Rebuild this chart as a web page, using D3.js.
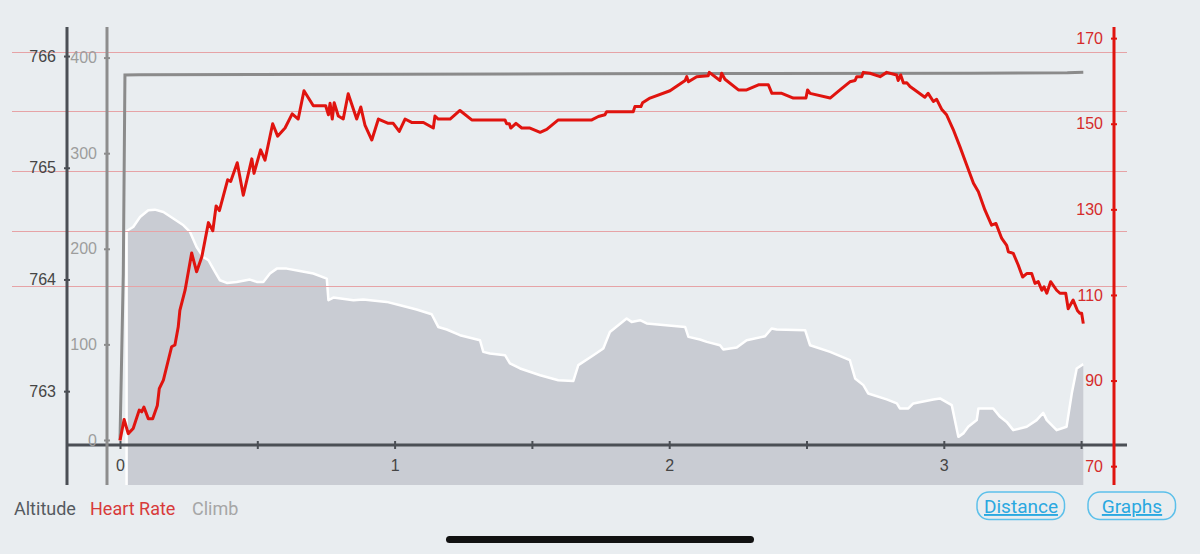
<!DOCTYPE html>
<meta charset="utf-8">
<style>
    body {
        margin: 0;
        background-color: #e9edf0;
    }
    svg {
        display: block;
        font-family: Roboto, sans-serif;
    }
    .axis text {
        font-size: 16px;
    }
    .axis path {
        display: none;
    }
    .grid line {
        stroke: #e6a3a6;
        stroke-width: 1px;
    }
    .area {
        fill: #c9ccd3;
    }
    .area-edge {
        fill: none;
        stroke: #fff;
        stroke-width: 2.5px;
        stroke-linejoin: round;
    }
    .hr-line {
        fill: none;
        stroke: #e0140f;
        stroke-width: 3px;
        stroke-linejoin: round;
    }
    .climb-line {
        fill: none;
        stroke: #8b8b8b;
        stroke-width: 3px;
    }
    .legend text {
        font-size: 18px;
    }
    .button rect {
        fill: none;
        stroke: #5cc0ea;
        stroke-width: 1.5px;
    }
    .button text {
        font-size: 19px;
        fill: #2aa8e0;
        text-decoration: underline;
        text-anchor: middle;
    }
</style>
<body>
<svg width="1200" height="554"></svg>
<script src="https://d3js.org/d3.v7.min.js"></script>
<script>
    // distance (km), altitude (m)
    var altitude = [
        [0.024, 764.434], [0.048, 764.470], [0.073, 764.559], [0.103, 764.619], [0.127, 764.625],
        [0.158, 764.604], [0.194, 764.545], [0.231, 764.485], [0.255, 764.425], [0.279, 764.291],
        [0.303, 764.201], [0.322, 764.172], [0.346, 764.067], [0.364, 763.993], [0.389, 763.969],
        [0.425, 763.978], [0.473, 763.999], [0.498, 763.978], [0.522, 763.978], [0.546, 764.053],
        [0.571, 764.097], [0.607, 764.097], [0.655, 764.076], [0.704, 764.053], [0.753, 764.008],
        [0.759, 763.814], [0.777, 763.838], [0.850, 763.814], [0.886, 763.820], [0.971, 763.799],
        [1.020, 763.769], [1.080, 763.731], [1.135, 763.689], [1.159, 763.575], [1.190, 763.552],
        [1.238, 763.501], [1.311, 763.456], [1.323, 763.352], [1.347, 763.337], [1.402, 763.322],
        [1.420, 763.248], [1.457, 763.203], [1.530, 763.143], [1.596, 763.098], [1.651, 763.092],
        [1.669, 763.233], [1.724, 763.322], [1.760, 763.382], [1.784, 763.530], [1.845, 763.650],
        [1.863, 763.620], [1.894, 763.635], [1.918, 763.606], [2.058, 763.575], [2.070, 763.486],
        [2.112, 763.462], [2.137, 763.441], [2.185, 763.411], [2.197, 763.373], [2.246, 763.391],
        [2.282, 763.456], [2.349, 763.492], [2.373, 763.561], [2.391, 763.552], [2.495, 763.546],
        [2.513, 763.411], [2.586, 763.352], [2.658, 763.277], [2.677, 763.114], [2.707, 763.054],
        [2.725, 762.979], [2.792, 762.926], [2.829, 762.890], [2.840, 762.845], [2.871, 762.845],
        [2.889, 762.890], [2.962, 762.926], [2.986, 762.935], [3.029, 762.875], [3.053, 762.591],
        [3.071, 762.622], [3.089, 762.681], [3.120, 762.741], [3.126, 762.845], [3.180, 762.845],
        [3.205, 762.770], [3.229, 762.725], [3.253, 762.651], [3.302, 762.681], [3.338, 762.741],
        [3.362, 762.806], [3.375, 762.741], [3.411, 762.651], [3.447, 762.681], [3.466, 762.979],
        [3.484, 763.203], [3.508, 763.242]
    ];

    // distance (km), heart rate (bpm)
    var heartRate = [
        [0.000, 76.0], [0.015, 80.9], [0.030, 77.6], [0.048, 78.8], [0.070, 83.1], [0.079, 82.7],
        [0.087, 83.8], [0.103, 81.1], [0.119, 81.1], [0.136, 84.2], [0.143, 88.1], [0.158, 90.1],
        [0.188, 97.9], [0.200, 98.3], [0.212, 102.5], [0.218, 106.4], [0.237, 111.1], [0.261, 119.8],
        [0.279, 115.4], [0.298, 118.9], [0.322, 126.9], [0.338, 125.0], [0.350, 130.8], [0.362, 129.7],
        [0.392, 136.9], [0.403, 136.5], [0.427, 140.9], [0.449, 133.3], [0.480, 141.8], [0.488, 138.4],
        [0.512, 143.9], [0.528, 141.5], [0.556, 150.0], [0.574, 147.1], [0.601, 149.0], [0.627, 152.3],
        [0.649, 151.1], [0.670, 157.7], [0.704, 154.2], [0.749, 154.2], [0.759, 152.1], [0.765, 154.8],
        [0.773, 151.1], [0.780, 154.9], [0.795, 151.8], [0.813, 151.1], [0.831, 157.0], [0.862, 151.1],
        [0.877, 153.9], [0.892, 149.7], [0.917, 146.2], [0.941, 151.1], [0.977, 150.1], [0.995, 150.1],
        [1.017, 148.2], [1.038, 151.1], [1.062, 150.3], [1.105, 150.3], [1.141, 149.0], [1.147, 151.8],
        [1.159, 151.1], [1.202, 151.1], [1.238, 153.1], [1.281, 150.9], [1.402, 150.9], [1.408, 150.0],
        [1.418, 150.0], [1.423, 149.0], [1.442, 150.1], [1.463, 149.0], [1.493, 149.0], [1.530, 148.0],
        [1.554, 148.7], [1.596, 150.9], [1.718, 150.9], [1.742, 151.7], [1.766, 152.1], [1.772, 152.8],
        [1.869, 152.8], [1.875, 154.0], [1.897, 154.0], [1.903, 154.9], [1.930, 156.0], [2.003, 157.7],
        [2.058, 160.1], [2.064, 161.0], [2.070, 159.8], [2.100, 161.0], [2.142, 161.2], [2.146, 162.0],
        [2.185, 160.1], [2.191, 161.8], [2.203, 160.4], [2.252, 157.9], [2.282, 157.9], [2.325, 159.1],
        [2.361, 159.1], [2.374, 157.1], [2.410, 157.1], [2.452, 156.0], [2.498, 156.0], [2.504, 157.9],
        [2.513, 157.1], [2.586, 156.0], [2.622, 157.9], [2.658, 159.8], [2.677, 160.1], [2.683, 161.0],
        [2.701, 161.0], [2.707, 162.0], [2.731, 161.8], [2.768, 161.0], [2.792, 162.0], [2.828, 161.4],
        [2.834, 160.1], [2.843, 161.4], [2.853, 159.5], [2.865, 159.6], [2.877, 158.7], [2.931, 156.2],
        [2.943, 157.1], [2.962, 155.2], [2.974, 155.7], [2.992, 153.4], [3.010, 152.1], [3.034, 148.7],
        [3.059, 144.6], [3.083, 140.4], [3.108, 136.1], [3.126, 134.1], [3.150, 129.8], [3.174, 126.3],
        [3.190, 126.7], [3.211, 123.2], [3.229, 121.6], [3.235, 120.1], [3.253, 119.7], [3.271, 117.0],
        [3.287, 114.2], [3.302, 115.0], [3.320, 115.0], [3.332, 112.7], [3.344, 113.1], [3.357, 111.1],
        [3.365, 111.9], [3.375, 110.4], [3.389, 113.1], [3.411, 111.1], [3.423, 110.4], [3.444, 110.4],
        [3.453, 106.8], [3.471, 108.8], [3.487, 106.3], [3.496, 105.7], [3.502, 105.7], [3.508, 103.3]
    ];

    // distance (km), cumulative climb
    var climb = [
        [0.000, 0], [0.012, 174], [0.018, 381.8], [0.070, 382], [1.000, 382.5], [1.660, 383],
        [2.200, 383.4], [3.100, 383.7], [3.450, 384.2], [3.508, 384.7]
    ];

    var hrZones = [166.8, 153.0, 139.0, 124.9, 112.1];

    var distTicks = [0, 0.5, 1, 1.5, 2, 2.5, 3, 3.5];
    var altTicks = [763, 764, 765, 766];
    var climbTicks = [0, 100, 200, 300, 400];
    var hrTicks = [70, 90, 110, 130, 150, 170];

    var legendItems = ["Altitude", "Heart Rate", "Climb"];
    var buttons = ["Distance", "Graphs"];

    var svg = d3.select("svg"),
        plotTop = 27, plotBottom = 485;

    var x = d3.scaleLinear().domain([0, 3.5]).range([120, 1081.1]);
    var yAlt = d3.scaleLinear().domain([762.16, 766.26]).range([plotBottom, plotTop]);
    var yClimb = d3.scaleLinear().domain([-47.1, 432]).range([plotBottom, plotTop]);
    var yHr = d3.scaleLinear().domain([65.6, 172.6]).range([plotBottom, plotTop]);

    // altitude area
    var area = d3.area()
        .x(function(d) { return x(d[0]); })
        .y0(plotBottom)
        .y1(function(d) { return yAlt(d[1]); });

    svg.append("path")
        .datum(altitude)
        .attr("class", "area")
        .attr("d", area);

    var edge = [[altitude[0][0], yAlt.domain()[0]]].concat(altitude);
    svg.append("path")
        .datum(edge)
        .attr("class", "area-edge")
        .attr("d", d3.line()
            .x(function(d) { return x(d[0]); })
            .y(function(d) { return yAlt(d[1]); }));

    // heart rate zone lines
    svg.append("g")
        .attr("class", "grid")
        .selectAll("line")
        .data(hrZones)
        .enter().append("line")
        .attr("x1", 12)
        .attr("x2", 1127)
        .attr("y1", function(d) { return Math.round(yHr(d)) + 0.5; })
        .attr("y2", function(d) { return Math.round(yHr(d)) + 0.5; });

    // x axis
    svg.append("line")
        .attr("x1", 67).attr("x2", 1127)
        .attr("y1", 445).attr("y2", 445)
        .attr("stroke", "#4b4f55").attr("stroke-width", 3);

    var xAxis = svg.append("g")
        .attr("class", "axis")
        .attr("transform", "translate(0,445)")
        .call(d3.axisBottom(x).tickValues(distTicks)
            .tickFormat(function(d) { return Number.isInteger(d) ? d : ""; })
            .tickSize(4).tickPadding(11));
    xAxis.selectAll(".tick line").attr("y1", -4).attr("y2", 4)
        .attr("stroke", "#4b4f55").attr("stroke-width", 2);
    xAxis.selectAll(".tick text").attr("fill", "#454545");

    // altitude axis
    svg.append("line")
        .attr("x1", 67).attr("x2", 67)
        .attr("y1", plotTop).attr("y2", plotBottom)
        .attr("stroke", "#4b4f55").attr("stroke-width", 3);
    var altAxis = svg.append("g")
        .attr("class", "axis")
        .attr("transform", "translate(67,0)")
        .call(d3.axisLeft(yAlt).tickValues(altTicks).tickFormat(d3.format("d"))
            .tickSize(3).tickPadding(8));
    altAxis.selectAll(".tick line").attr("x1", -3).attr("x2", 3)
        .attr("stroke", "#4b4f55").attr("stroke-width", 2);
    altAxis.selectAll(".tick text").attr("fill", "#454545");

    // climb axis
    svg.append("line")
        .attr("x1", 107).attr("x2", 107)
        .attr("y1", plotTop).attr("y2", plotBottom)
        .attr("stroke", "#8d8d8d").attr("stroke-width", 3);
    var climbAxis = svg.append("g")
        .attr("class", "axis")
        .attr("transform", "translate(107,0)")
        .call(d3.axisLeft(yClimb).tickValues(climbTicks).tickSize(3).tickPadding(7));
    climbAxis.selectAll(".tick line").attr("x1", -3).attr("x2", 3)
        .attr("stroke", "#8d8d8d").attr("stroke-width", 2);
    climbAxis.selectAll(".tick text").attr("fill", "#9d9d9d");

    // heart rate axis
    svg.append("line")
        .attr("x1", 1114).attr("x2", 1114)
        .attr("y1", plotTop).attr("y2", plotBottom)
        .attr("stroke", "#e0140f").attr("stroke-width", 3);
    var hrAxis = svg.append("g")
        .attr("class", "axis")
        .attr("transform", "translate(1114,0)")
        .call(d3.axisLeft(yHr).tickValues(hrTicks).tickSize(3).tickPadding(8));
    hrAxis.selectAll(".tick line").attr("x1", -3).attr("x2", 3)
        .attr("stroke", "#e0140f").attr("stroke-width", 2);
    hrAxis.selectAll(".tick text").attr("fill", "#d52b2b");

    // climb line
    svg.append("path")
        .datum(climb)
        .attr("class", "climb-line")
        .attr("d", d3.line()
            .x(function(d) { return x(d[0]); })
            .y(function(d) { return yClimb(d[1]); }));

    // heart rate line
    svg.append("path")
        .datum(heartRate)
        .attr("class", "hr-line")
        .attr("d", d3.line()
            .x(function(d) { return x(d[0]); })
            .y(function(d) { return yHr(d[1]); }));

    // legend
    var legendX = [14, 90, 192],
        legendColors = ["#555a60", "#d83a3a", "#a6a6a6"];
    svg.append("g")
        .attr("class", "legend")
        .selectAll("text")
        .data(legendItems)
        .enter().append("text")
        .attr("x", function(d, i) { return legendX[i]; })
        .attr("y", 515)
        .attr("fill", function(d, i) { return legendColors[i]; })
        .text(function(d) { return d; });

    // buttons
    var buttonX = [977, 1088];
    var btn = svg.selectAll(".button")
        .data(buttons)
        .enter().append("g")
        .attr("class", "button")
        .attr("transform", function(d, i) { return "translate(" + buttonX[i] + ",492)"; });
    btn.append("rect")
        .attr("width", 87.5)
        .attr("height", 27.5)
        .attr("rx", 12);
    btn.append("text")
        .attr("x", 44)
        .attr("y", 21)
        .text(function(d) { return d; });

    // home indicator
    svg.append("rect")
        .attr("x", 446).attr("y", 536)
        .attr("width", 308).attr("height", 7)
        .attr("rx", 3.5)
        .attr("fill", "#111");
</script>
</body>
